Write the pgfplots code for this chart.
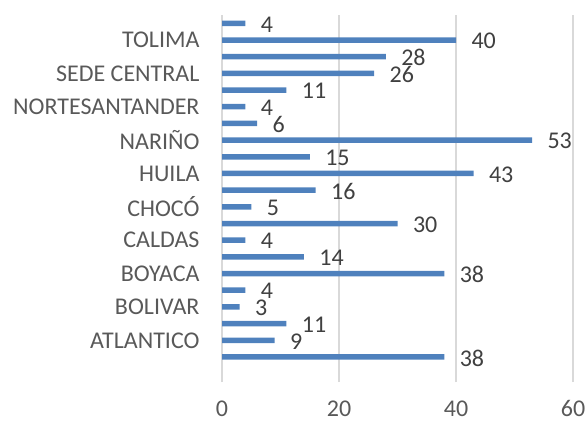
\documentclass[border=0pt]{standalone}
\usepackage{fontspec}
\setmainfont{Carlito}
\usepackage{pgfplots}
\pgfplotsset{compat=1.18}
\definecolor{barblue}{HTML}{4F81BD}
\definecolor{gridgray}{HTML}{D9D9D9}
\definecolor{labgray}{HTML}{595959}
\definecolor{datagray}{HTML}{404040}
\begin{document}
\begin{tikzpicture}
\useasboundingbox (0,0) rectangle (585bp,421bp);
\begin{axis}[
  at={(222bp,39bp)}, anchor=south west,
  scale only axis, width=351bp, height=367bp,
  xbar, bar width=5.5bp,
  xmin=0, xmax=60, ymin=-1.5, ymax=20.5,
  xtick={0,20,40,60},
  ytick={1,3,...,19},
  yticklabels={ATLANTICO,BOLIVAR,BOYACA,CALDAS,CHOCÓ,HUILA,NARIÑO,NORTESANTANDER,SEDE CENTRAL,TOLIMA},
  xmajorgrids,
  major grid style={draw=gridgray, line width=1.2bp},
  axis line style={draw=none},
  major tick length=0pt,
  font=\fontsize{24bp}{28bp}\selectfont,
  /pgf/number format/assume math mode=true,
  ticklabel style={text=labgray, font=\fontsize{24bp}{28bp}\selectfont},
  xticklabel style={yshift=-15bp},
  yticklabel style={xshift=-19bp},
  nodes near coords,
  nodes near coords style={text=datagray, anchor=west, xshift=12bp, yshift=-1bp, font=\fontsize{24bp}{28bp}\selectfont},
]
\addplot[fill=barblue, draw=none] coordinates {
(38,0) (9,1) (11,2) (3,3) (4,4) (38,5) (14,6) (4,7) (30,8) (5,9)
(16,10) (43,11) (15,12) (53,13) (6,14) (4,15) (11,16) (26,17) (28,18) (40,19) (4,20)
};
\end{axis}
\end{tikzpicture}
\end{document}
